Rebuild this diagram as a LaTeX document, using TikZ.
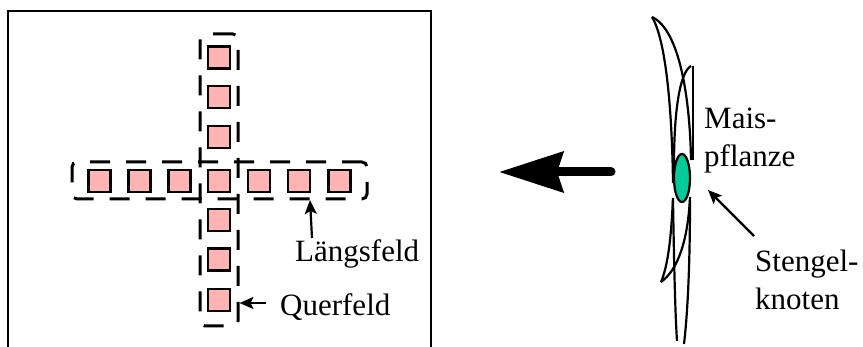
\documentclass[tikz,border=0pt]{standalone}
\usepackage{fontspec}
\setmainfont{Liberation Serif}
\usetikzlibrary{arrows.meta,shapes.geometric}
\definecolor{plotpink}{RGB}{255,179,179}
\definecolor{nodegreen}{RGB}{0,204,153}
\begin{document}
\begin{tikzpicture}[x=1pt,y=-1pt,
  plot/.style={draw=black,fill=plotpink,line width=2.2pt,minimum size=22pt,inner sep=0pt},
  fieldbox/.style={draw=black,line width=3pt,dash pattern=on 20pt off 16pt,rounded corners=5pt,inner sep=0pt},
  lbl/.style={font=\fontsize{31}{38}\selectfont,inner sep=0pt},
  pointer/.style={line width=2.2pt,-{Stealth[length=14pt,width=12pt,inset=3pt]}},
  leaf/.style={line width=2.2pt}]
\useasboundingbox (0,0) rectangle (863,347);
% test frame, open at the lower edge
\draw[line width=2.5pt] (8,347) -- (8,11) -- (431,11) -- (431,347);
% dashed outlines of the two fields
\node[fieldbox,minimum width=38pt,minimum height=292pt] (quer) at (219,180) {};
\node[fieldbox,minimum width=295pt,minimum height=37pt] (laengs) at (219.5,180.5) {};
% plots of the cross
\foreach \y [count=\i] in {57.5,97,137,220,259.5,300}
  \node[plot] (v\i) at (219,\y) {};
\foreach \x [count=\i] in {99.5,139.5,179.5,219,259,299,339.5}
  \node[plot] (h\i) at (\x,181) {};
% labels with pointers
\node[lbl,anchor=base west] (tl) at (295,262) {Längsfeld};
\coordinate (tlarr) at (312,238);
\draw[pointer] (tlarr) -- (310,200);
\node[lbl,anchor=base west] (tq) at (280,316) {Querfeld};
\coordinate (tqarr) at (266,303);
\draw[pointer] (tqarr) -- (quer.east |- tqarr);
% big arrow
\coordinate (bt) at (611,172);
\coordinate (bh) at (499,172);
\draw[line width=9pt,line cap=round,-{Stealth[length=64pt,width=40pt,inset=6pt]}] (bt) -- (bh);
% maize plant
\draw[leaf] (652,17) .. controls (680,30) and (690,100) .. (691,160);
\draw[leaf] (652,17) .. controls (666,40) and (672,110) .. (673,183);
\draw[leaf] (674,165) .. controls (674,110) and (680,72) .. (691,66);
\draw[leaf] (693,66) -- (693,160);
\draw[leaf] (673,198) .. controls (671,240) and (668,265) .. (661,282);
\draw[leaf] (690,197) .. controls (688,240) and (678,270) .. (661,282);
\draw[leaf] (673,200) .. controls (674,260) and (675,310) .. (677,341);
\draw[leaf] (690,200) .. controls (690,260) and (688,310) .. (684,344);
\node[draw=black,fill=nodegreen,line width=2.2pt,ellipse,minimum width=16pt,minimum height=48pt,inner sep=0pt] (knot) at (682,178) {};
% multi-line labels: the base anchor sits on the last line
\node[lbl,anchor=base west,align=left] (mais) at (704,167) {Mais-\\pflanze};
\node[lbl,anchor=base west,align=left] (sk) at (755,310) {Stengel-\\knoten};
\coordinate (skarr) at (754,236);
\draw[pointer] (skarr) -- (708,190);
\end{tikzpicture}
\end{document}
